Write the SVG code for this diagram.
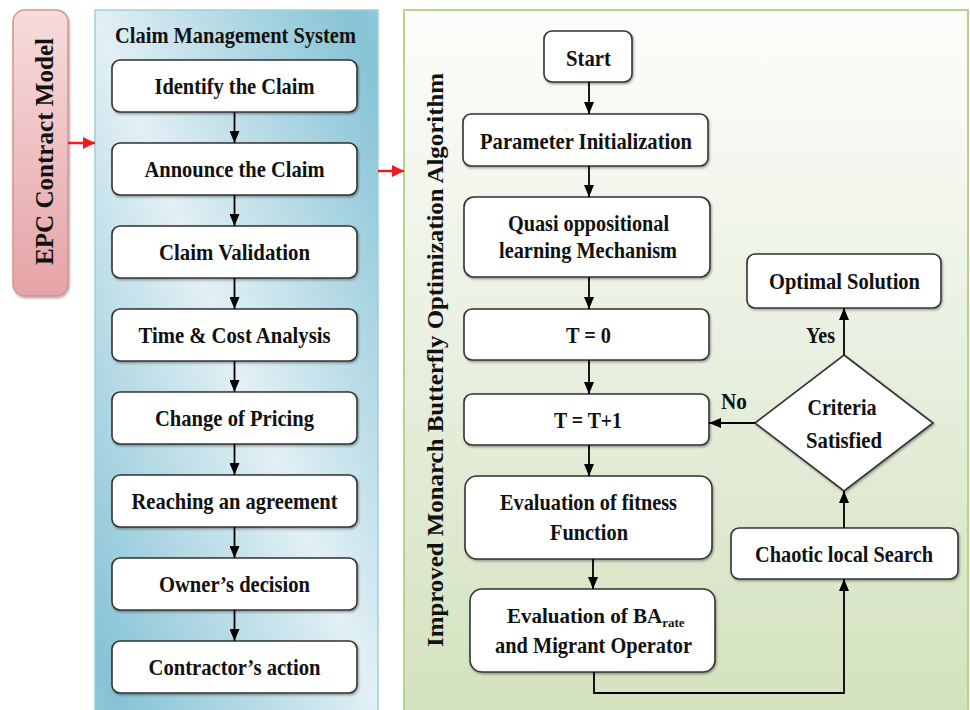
<svg xmlns="http://www.w3.org/2000/svg" width="970" height="710" viewBox="0 0 970 710">
<defs>
<linearGradient id="gEpc" x1="0" y1="0" x2="0" y2="1">
<stop offset="0" stop-color="#f7dcdc"/>
<stop offset="1" stop-color="#e5a3a7"/>
</linearGradient>
<linearGradient id="gBlue" gradientUnits="userSpaceOnUse" x1="235" y1="360" x2="457" y2="269" spreadMethod="reflect">
<stop offset="0" stop-color="#e2f0f5"/>
<stop offset="1" stop-color="#86c3d5"/>
</linearGradient>
<linearGradient id="gGreen" x1="0" y1="0" x2="0" y2="1">
<stop offset="0" stop-color="#fdfdfb"/>
<stop offset="0.5" stop-color="#e8efdf"/>
<stop offset="1" stop-color="#d3e2bd"/>
</linearGradient>
<filter id="sh" x="-10%" y="-10%" width="130%" height="140%">
<feDropShadow dx="1" dy="1.5" stdDeviation="1" flood-color="#000" flood-opacity="0.35"/>
</filter>
<marker id="ah" markerUnits="userSpaceOnUse" markerWidth="12" markerHeight="10" refX="12" refY="5" orient="auto">
<path d="M0,0 L12,5 L0,10 z" fill="#000"/>
</marker>
<marker id="ahr" markerUnits="userSpaceOnUse" markerWidth="12" markerHeight="12" refX="12" refY="6" orient="auto">
<path d="M0,0 L12,6 L0,12 z" fill="#ee1c1c"/>
</marker>
<style>
.t{font-family:"Liberation Serif","Times New Roman",serif;font-weight:bold;font-size:22.5px;fill:#111;text-anchor:middle}
.bx{fill:#fff;stroke:#333;stroke-width:1.6;filter:url(#sh)}
.c{fill:none;stroke:#000;stroke-width:1.8;marker-end:url(#ah)}
.cr{fill:none;stroke:#ee1c1c;stroke-width:2.5;marker-end:url(#ahr)}
</style>
</defs>

<g id="panels">
<rect x="95" y="10" width="283" height="705" fill="url(#gBlue)" stroke="#9fcfdc" stroke-width="1.5"/>
<rect x="404" y="10" width="564" height="705" fill="url(#gGreen)" stroke="#b5d58e" stroke-width="2"/>
</g>

<g id="epc">
<rect x="13" y="10" width="55" height="286" rx="12" fill="url(#gEpc)" stroke="#d49494" stroke-width="1.5" filter="url(#sh)"/>
<text class="t" style="font-size:25px" textLength="227" lengthAdjust="spacingAndGlyphs" transform="translate(53,151.5) rotate(-90)">EPC Contract Model</text>
</g>

<g id="cms-title">
<text class="t" x="235.5" y="43" textLength="241" lengthAdjust="spacingAndGlyphs">Claim Management System</text>
</g>

<g id="imbo-title">
<text class="t" style="font-size:24px" textLength="574" lengthAdjust="spacingAndGlyphs" transform="translate(443,360) rotate(-90)">Improved Monarch Butterfly Optimization Algorithm</text>
</g>

<g id="n1"><rect class="bx" x="112" y="60" width="245" height="52" rx="8"/><text class="t" x="234.5" y="94" textLength="160" lengthAdjust="spacingAndGlyphs">Identify the Claim</text></g>
<g id="n2"><rect class="bx" x="112" y="143" width="245" height="52" rx="8"/><text class="t" x="234.5" y="177" textLength="180" lengthAdjust="spacingAndGlyphs">Announce the Claim</text></g>
<g id="n3"><rect class="bx" x="112" y="226" width="245" height="52" rx="8"/><text class="t" x="234.5" y="260" textLength="151" lengthAdjust="spacingAndGlyphs">Claim Validation</text></g>
<g id="n4"><rect class="bx" x="112" y="309" width="245" height="52" rx="8"/><text class="t" x="234.5" y="343" textLength="192" lengthAdjust="spacingAndGlyphs">Time &amp; Cost Analysis</text></g>
<g id="n5"><rect class="bx" x="112" y="392" width="245" height="52" rx="8"/><text class="t" x="234.5" y="426" textLength="159" lengthAdjust="spacingAndGlyphs">Change of Pricing</text></g>
<g id="n6"><rect class="bx" x="112" y="475" width="245" height="52" rx="8"/><text class="t" x="234.5" y="509" textLength="206" lengthAdjust="spacingAndGlyphs">Reaching an agreement</text></g>
<g id="n7"><rect class="bx" x="112" y="558" width="245" height="52" rx="8"/><text class="t" x="234.5" y="592" textLength="151" lengthAdjust="spacingAndGlyphs">Owner’s decision</text></g>
<g id="n8"><rect class="bx" x="112" y="641" width="245" height="52" rx="8"/><text class="t" x="234.5" y="675" textLength="172" lengthAdjust="spacingAndGlyphs">Contractor’s action</text></g>

<g id="start"><rect class="bx" x="544" y="31" width="88" height="51" rx="8"/><text class="t" x="588.5" y="66" textLength="45" lengthAdjust="spacingAndGlyphs">Start</text></g>
<g id="param"><rect class="bx" x="463" y="114" width="245" height="52" rx="8"/><text class="t" x="586" y="149" textLength="212" lengthAdjust="spacingAndGlyphs">Parameter Initialization</text></g>
<g id="quasi"><rect class="bx" x="464" y="197" width="246" height="80" rx="10"/><text class="t" x="588.5" y="231" textLength="161" lengthAdjust="spacingAndGlyphs">Quasi oppositional</text><text class="t" x="588" y="258" textLength="178" lengthAdjust="spacingAndGlyphs">learning Mechanism</text></g>
<g id="t0"><rect class="bx" x="464" y="309" width="245" height="51" rx="8"/><text class="t" x="588.5" y="343" textLength="45" lengthAdjust="spacingAndGlyphs">T = 0</text></g>
<g id="t1"><rect class="bx" x="464" y="394" width="245" height="51" rx="8"/><text class="t" x="588" y="428" textLength="68" lengthAdjust="spacingAndGlyphs">T = T+1</text></g>
<g id="fitness"><rect class="bx" x="465" y="476" width="247" height="83" rx="12"/><text class="t" x="588.5" y="510" textLength="177" lengthAdjust="spacingAndGlyphs">Evaluation of fitness</text><text class="t" x="589" y="540" textLength="78" lengthAdjust="spacingAndGlyphs">Function</text></g>
<g id="ba"><rect class="bx" x="470" y="589" width="245" height="83" rx="12"/><text class="t" x="507" y="623" style="text-anchor:start;font-size:21px">Evaluation of BA<tspan style="font-size:13px" dy="4">rate</tspan></text><text class="t" x="593.5" y="653" textLength="197" lengthAdjust="spacingAndGlyphs">and Migrant Operator</text></g>
<g id="optimal"><rect class="bx" x="747" y="254" width="194" height="54" rx="8"/><text class="t" x="844.5" y="289" textLength="151" lengthAdjust="spacingAndGlyphs">Optimal Solution</text></g>
<g id="criteria"><polygon points="844,355 933,423 844,491 755,423" fill="#fff" stroke="#333" stroke-width="1.6" filter="url(#sh)"/><text class="t" x="842" y="415" textLength="69" lengthAdjust="spacingAndGlyphs">Criteria</text><text class="t" x="844" y="448" textLength="76" lengthAdjust="spacingAndGlyphs">Satisfied</text></g>
<g id="chaotic"><rect class="bx" x="731" y="528" width="227" height="51" rx="8"/><text class="t" x="844" y="562" textLength="178" lengthAdjust="spacingAndGlyphs">Chaotic local Search</text></g>

<g id="connectors">
<path class="cr" d="M68,143 H95"/>
<path class="cr" d="M378,171 H404"/>
<path class="c" d="M234.5,112 V143"/>
<path class="c" d="M234.5,195 V226"/>
<path class="c" d="M234.5,278 V309"/>
<path class="c" d="M234.5,361 V392"/>
<path class="c" d="M234.5,444 V475"/>
<path class="c" d="M234.5,527 V558"/>
<path class="c" d="M234.5,610 V641"/>
<path class="c" d="M589,82 V114"/>
<path class="c" d="M589,166 V197"/>
<path class="c" d="M589,277 V309"/>
<path class="c" d="M589,360 V394"/>
<path class="c" d="M589,445 V476"/>
<path class="c" d="M593,559 V589"/>
<path class="c" d="M594,672 V693 H844 V579"/>
<path class="c" d="M844,528 V491"/>
<path class="c" d="M844,355 V308"/>
<path class="c" d="M755,423 H709"/>
<text class="t" x="820.5" y="343" textLength="29" lengthAdjust="spacingAndGlyphs">Yes</text>
<text class="t" x="734" y="409" textLength="26" lengthAdjust="spacingAndGlyphs">No</text>
</g>
</svg>
